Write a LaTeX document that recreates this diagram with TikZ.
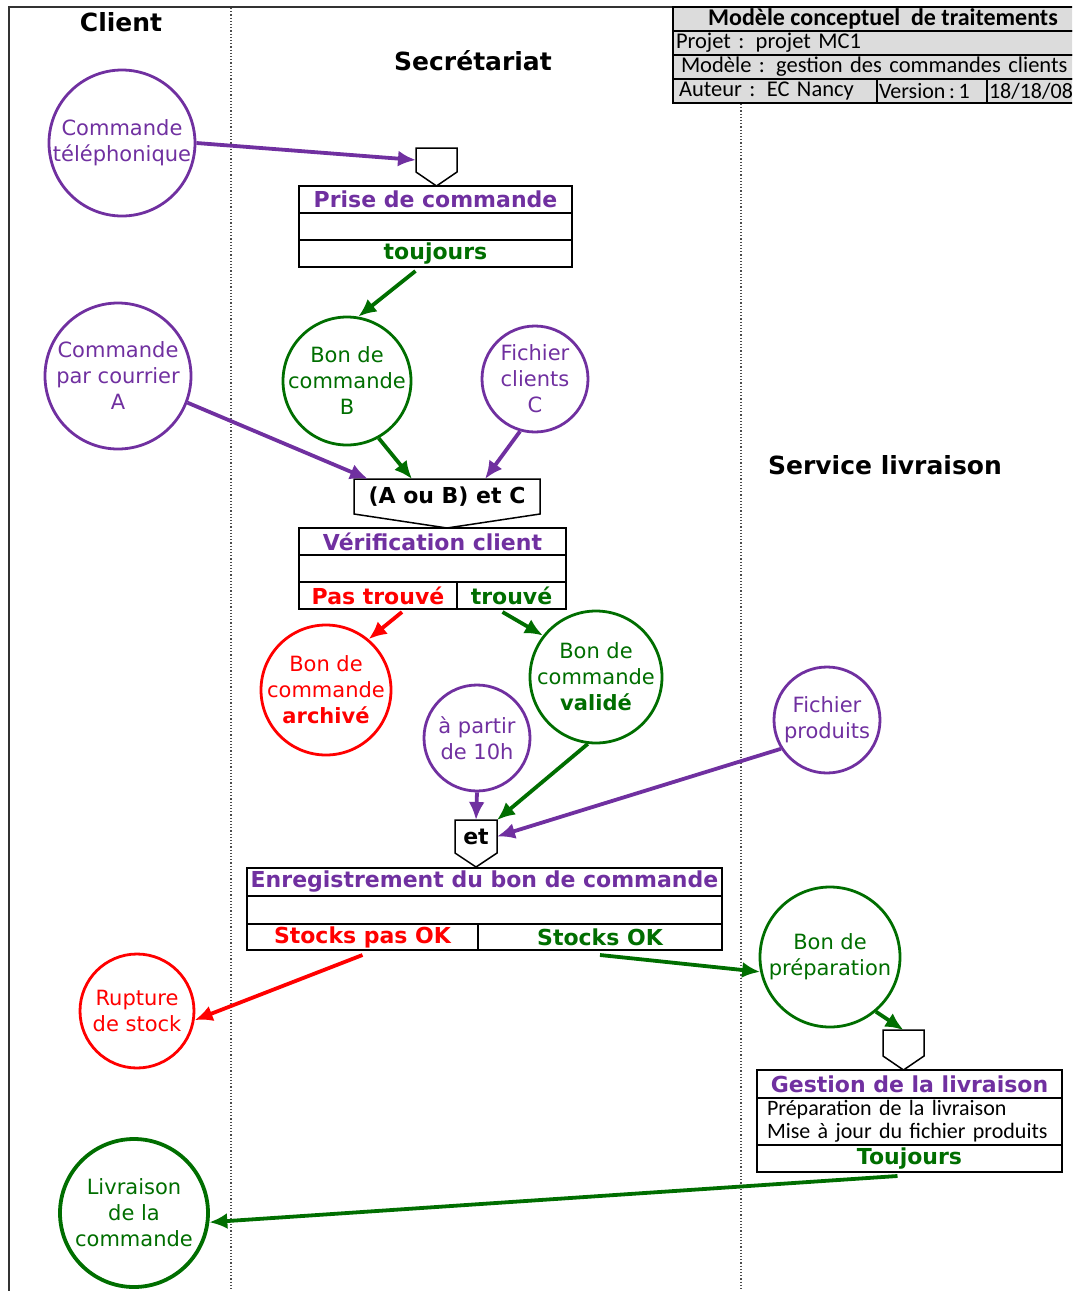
\documentclass[tikz,border=0pt]{standalone}
\usepackage{fontspec}
\setmainfont{DejaVu Sans}
\newfontfamily\calfont{Carlito}
\usetikzlibrary{positioning,calc,arrows.meta}
\definecolor{mviolet}{RGB}{112,48,160}
\definecolor{mvert}{RGB}{0,110,0}
\definecolor{mrouge}{RGB}{255,0,0}
\definecolor{mgris}{RGB}{220,220,220}
\newcommand\fs[2]{\fontsize{#1}{#2}\selectfont}
\tikzset{
  etat/.style={circle, draw=#1, text=#1, line width=2.8pt, align=center, inner sep=-15pt, font=\fs{21}{26}},
  op/.style={draw, line width=1.5pt, outer sep=0pt, inner sep=0pt, minimum height=27, font=\fs{22}{26}\bfseries},
  sync/.style={inner sep=0pt, outer sep=0pt, font=\fs{22}{26}\bfseries},
  cart/.style={draw, line width=1.5pt, fill=mgris, outer sep=0pt, inner sep=0pt, minimum height=24, anchor=north west, font=\calfont\fs{22.5}{24}},
  fl/.style={-{Latex[length=18pt,width=16pt]}, line width=3.8pt},
  couloir/.style={dotted, line width=1.2pt, black!70},
}
\begin{document}
\begin{tikzpicture}[x=1pt, y=-1pt]
\useasboundingbox (0,0) rectangle (1072,1291);
\clip (0,0) rectangle (1072,1291);
% cadre et couloirs
\draw[line width=1.5pt, black!80] (9,1291) -- (9,7) -- (673,7);
\draw[couloir] (231,8) -- (231,1291);
\draw[couloir] (741,104) -- (741,1291);
\node[font=\fs{25}{30}\bfseries] (client) at (121,22) {Client};
\node[font=\fs{25}{30}\bfseries] (secretariat) at (473,61) {Secrétariat};
\node[font=\fs{25}{30}\bfseries] (service) at (885,465) {Service livraison};

% cartouche
\node[cart, minimum width=420, font=\calfont\fs{24}{24}\bfseries] (cartitre) at (673,7) {Modèle conceptuel\ \ de traitements};
\node[cart, below=0pt of cartitre, text width=414, inner xsep=3pt, align=left] (cartprojet) {Projet : projet MC1};
\node[cart, below=0pt of cartprojet, text width=404, inner xsep=8pt, align=left] (cartmodele) {Modèle : gestion des commandes clients};
\node[cart, at=(cartmodele.south west), text width=192, inner xsep=6pt, align=left] (cartauteur) {Auteur : EC Nancy};
\node[cart, at=(cartauteur.north east), text width=106, inner xsep=2pt, align=left, font=\calfont\fs{22}{24}] (cartversion) {Version\,:\,1};
\node[cart, at=(cartversion.north east), text width=100, inner xsep=2pt, align=left, font=\calfont\fs{22}{24}] (cartdate) {18/18/08};

% etats
\node[etat=mviolet, minimum size=146] (tel) at (122,143) {Commande\\téléphonique};
\node[etat=mviolet, minimum size=146] (courrier) at (118,376) {Commande\\par courrier\\A};
\node[etat=mvert, minimum size=128] (bonB) at (347,381) {Bon de\\commande\\B};
\node[etat=mviolet, minimum size=106] (fichierC) at (535,379) {Fichier\\clients\\C};
\node[etat=mrouge, minimum size=130] (archive) at (326,690) {Bon de\\commande\\\textbf{archivé}};
\node[etat=mvert, minimum size=132] (valide) at (596,677) {Bon de\\commande\\\textbf{validé}};
\node[etat=mviolet, minimum size=106] (dixh) at (477,738) {à partir\\de 10h};
\node[etat=mviolet, minimum size=106] (produits) at (827,720) {Fichier\\produits};
\node[etat=mrouge, minimum size=114] (rupture) at (137,1011) {Rupture\\de stock};
\node[etat=mvert, minimum size=140] (preparation) at (830,957) {Bon de\\préparation};
\node[etat=mvert, minimum size=148, line width=3.8pt] (livree) at (134,1213) {Livraison\\de la\\commande};

% operations
\node[op, anchor=north west, minimum width=273, text=mviolet] (prise) at (299,186) {Prise de commande};
\node[op, below=0pt of prise, minimum width=273] (prisecorps) {};
\node[op, below=0pt of prisecorps, minimum width=273, text=mvert] (prisetoujours) {toujours};

\node[op, anchor=north west, minimum width=267, text=mviolet] (verif) at (299,528) {Vérification client};
\node[op, below=0pt of verif, minimum width=267] (verifcorps) {};
\node[op, anchor=north west, minimum width=158, text=mrouge] (pastrouve) at (verifcorps.south west) {Pas trouvé};
\node[op, right=0pt of pastrouve, minimum width=109, text=mvert] (trouve) {trouvé};

\node[op, anchor=north west, minimum width=475, minimum height=28, text=mviolet] (enreg) at (247,868) {Enregistrement du bon de commande};
\node[op, below=0pt of enreg, minimum width=475, minimum height=28] (enregcorps) {};
\node[op, anchor=north west, minimum width=231, minimum height=26, text=mrouge] (pasok) at (enregcorps.south west) {Stocks pas OK};
\node[op, right=0pt of pasok, minimum width=244, minimum height=26, text=mvert] (stockok) {Stocks OK};

\node[op, anchor=north west, minimum width=305, minimum height=28, text=mviolet] (gestion) at (757,1070) {Gestion de la livraison};
\node[op, below=0pt of gestion, text width=285, inner xsep=10pt, align=left, minimum height=47, font=\calfont\fs{22}{23}] (gestioncorps) {Préparation de la livraison\\Mise à jour du fichier produits};
\node[op, below=0pt of gestioncorps, minimum width=305, text=mvert] (gestiontoujours) {Toujours};

% synchronisations
\node[sync, minimum width=41, minimum height=24] (sync1) at (436.5,160) {};
\node[sync, minimum width=186, minimum height=35] (sync2) at (447,496.5) {(A ou B) et C};
\node[sync, minimum width=42, minimum height=33] (sync3) at (476,836.5) {et};
\node[sync, minimum width=41, minimum height=26] (sync4) at (903.5,1043) {};
\foreach \s in {sync1,sync2,sync3,sync4}
  \draw[line width=1.5pt] (\s.north west) -- (\s.north east) -- (\s.south east) -- ([yshift=-14pt]\s.south) -- (\s.south west) -- cycle;

% fleches
\draw[fl, mviolet] (tel.east) -- (sync1.west);
\draw[fl, mvert] ([xshift=-20pt, yshift=-4pt]prisetoujours.south) -- (bonB.80);
\draw[fl, mviolet] (courrier.-21) -- ([xshift=14pt]sync2.north west);
\draw[fl, mvert] (bonB.-61) -- ([xshift=58pt]sync2.north west);
\draw[fl, mviolet] (fichierC.-106) -- ([xshift=131pt]sync2.north west);
\draw[fl, mrouge] ([xshift=24pt, yshift=-3pt]pastrouve.south) -- (archive.50);
\draw[fl, mvert] ([xshift=-9pt, yshift=-3pt]trouve.south) -- (valide.142);
\draw[fl, mviolet] (dixh.south) -- (sync3.north);
\draw[fl, mvert] (valide.-97) -- (sync3.north east);
\draw[fl, mviolet] (produits.212) -- (sync3.east);
\draw[fl, mrouge] ([yshift=-5pt]pasok.south) -- (rupture.-9);
\draw[fl, mvert] ([yshift=-5pt]stockok.south) -- (preparation.192);
\draw[fl, mvert] (preparation.-50) -- (sync4.north);
\draw[fl, mvert] ([xshift=-12pt, yshift=-4pt]gestiontoujours.south) -- (livree.-7);
\end{tikzpicture}
\end{document}
